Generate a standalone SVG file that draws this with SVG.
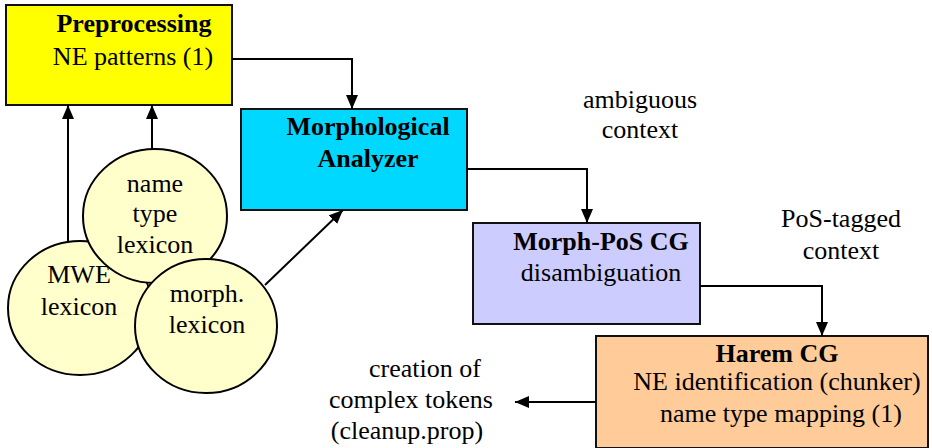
<svg xmlns="http://www.w3.org/2000/svg" width="932" height="448" viewBox="0 0 932 448">
  <style>
    text { font-family: 'Liberation Serif', 'DejaVu Serif', serif; font-size: 26px; fill: #000; text-anchor: middle; }
    .b { font-weight: bold; }
    .box { stroke: #111; stroke-width: 2; }
    .lex { fill: #FFFFCC; stroke: #000; stroke-width: 2; }
    .conn { fill: none; stroke: #000; stroke-width: 2; }
  </style>
  <defs>
    <marker id="arrow" viewBox="0 0 14 12" refX="14" refY="6" markerWidth="14" markerHeight="12" markerUnits="userSpaceOnUse" orient="auto">
      <path d="M0,0 L14,6 L0,12 z" fill="#000"/>
    </marker>
  </defs>

  <g id="preprocessing">
    <rect class="box" x="6" y="5" width="226" height="100" fill="#FFFF00"/>
    <text class="b" x="134" y="32">Preprocessing</text>
    <text x="133" y="65">NE patterns (1)</text>
  </g>

  <g id="morphological-analyzer">
    <rect class="box" x="241" y="109" width="226" height="101" fill="#00D8FF"/>
    <text class="b" x="368" y="135">Morphological</text>
    <text class="b" x="368" y="167">Analyzer</text>
  </g>

  <g id="morph-pos-cg">
    <rect class="box" x="473" y="223" width="227" height="101" fill="#CCCCFF"/>
    <text class="b" x="601" y="250">Morph-PoS CG</text>
    <text x="601" y="281">disambiguation</text>
  </g>

  <g id="harem-cg">
    <rect class="box" x="596" y="336" width="332" height="112" fill="#FFCC99"/>
    <text class="b" x="777" y="362">Harem CG</text>
    <text x="777" y="390">NE identification (chunker)</text>
    <text x="781" y="422">name type mapping (1)</text>
  </g>

  <g id="label-ambiguous">
    <text x="640" y="108">ambiguous</text>
    <text x="640" y="138">context</text>
  </g>

  <g id="label-pos-tagged">
    <text x="841" y="227">PoS-tagged</text>
    <text x="841" y="259">context</text>
  </g>

  <g id="label-complex-tokens">
    <text x="425" y="377">creation of</text>
    <text x="411" y="408">complex tokens</text>
    <text x="407" y="439">(cleanup.prop)</text>
  </g>

  <g id="connectors">
    <path class="conn" d="M232,59 H352 V109" marker-end="url(#arrow)"/>
    <path class="conn" d="M467,169 H587 V223" marker-end="url(#arrow)"/>
    <path class="conn" d="M700,286 H822 V336" marker-end="url(#arrow)"/>
    <path class="conn" d="M596,402 H515" marker-end="url(#arrow)"/>
    <path class="conn" d="M68,241 V105" marker-end="url(#arrow)"/>
    <path class="conn" d="M152,149 V105" marker-end="url(#arrow)"/>
    <path class="conn" d="M265,285 L343,210" marker-end="url(#arrow)"/>
  </g>

  <g id="mwe-lexicon">
    <ellipse class="lex" cx="80" cy="308" rx="72" ry="67"/>
    <text x="79" y="283">MWE</text>
    <text x="79" y="315">lexicon</text>
  </g>

  <g id="name-type-lexicon">
    <ellipse class="lex" cx="155" cy="216" rx="72" ry="67"/>
    <text x="155" y="192">name</text>
    <text x="155" y="222">type</text>
    <text x="155" y="253">lexicon</text>
  </g>

  <g id="morph-lexicon">
    <ellipse class="lex" cx="206" cy="326" rx="71" ry="67"/>
    <text x="207" y="302">morph.</text>
    <text x="207" y="333">lexicon</text>
  </g>
</svg>
